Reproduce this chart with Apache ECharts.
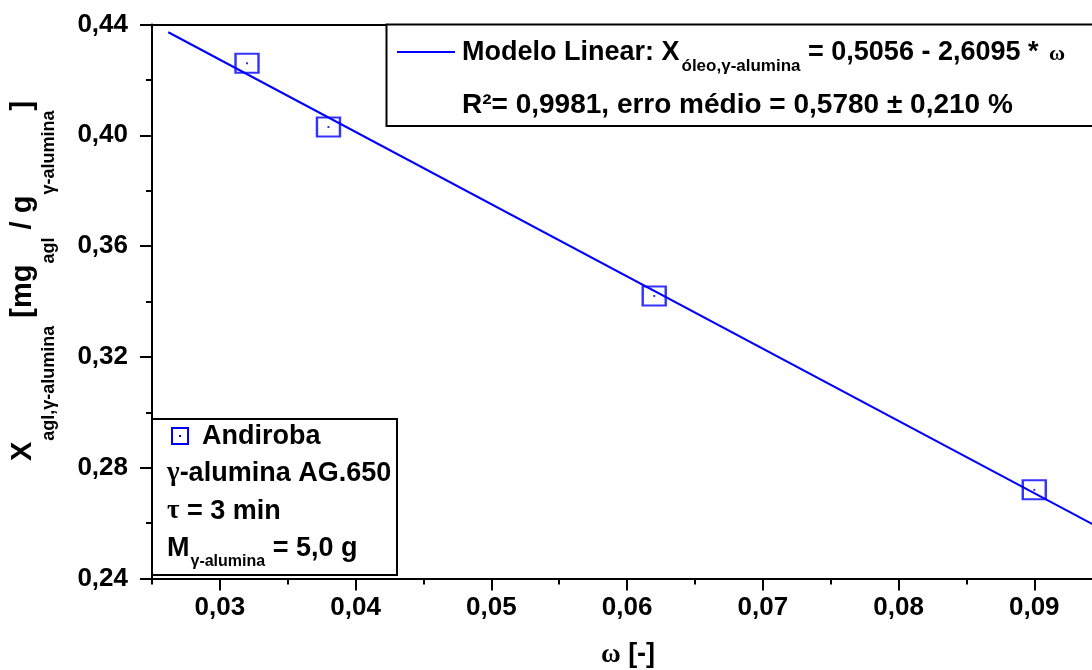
<!DOCTYPE html>
<html>
<head>
<meta charset="utf-8">
<script src="https://cdn.jsdelivr.net/npm/echarts@6/dist/echarts.min.js"></script>
<style>
html,body{margin:0;padding:0;background:#fff;}
#chart{width:1092px;height:670px;}
</style>
</head>
<body>
<div id="chart"></div>
<script>
// ---- data ----
const omega = [0.032, 0.038, 0.062, 0.090];
const xAgl = [0.426, 0.403, 0.342, 0.272];
const fitOmega = [0.0262, 0.1];
const fitX = [0.4372, 0.2447];
const xMajorTicks = [0.03, 0.04, 0.05, 0.06, 0.07, 0.08, 0.09, 0.1];
const xMinorTicks = [0.025, 0.035, 0.045, 0.055, 0.065, 0.075, 0.085, 0.095];
const yMin = 0.24, yMax = 0.44, yStep = 0.04;
const xMin = 0.025, xMax = 0.1;

const F = '"Liberation Sans", Arial, Helvetica, sans-serif';
const S = '"Liberation Serif", "Times New Roman", serif';
const BLUE = '#0000ff';
const fmt = v => v.toFixed(2).replace('.', ',');

const chart = echarts.init(document.getElementById('chart'), null, {renderer: 'canvas'});

const mainTok = {fontFamily: F, fontWeight: 'bold', fontSize: 27, lineHeight: 30, verticalAlign: 'top', fill: '#000'};
const greekTok = {fontFamily: S, fontWeight: 'bold', fontSize: 27, lineHeight: 30, verticalAlign: 'top', fill: '#000'};

const option = {
  animation: false,
  backgroundColor: '#fff',
  grid: {left: 152, right: -78, top: 24.5, bottom: 91.5, containLabel: false, outerBoundsMode: 'none'},
  xAxis: [
    {
      type: 'value', position: 'bottom', min: xMin, max: xMax,
      axisLine: {show: true, onZero: false, lineStyle: {color: '#000', width: 2}},
      axisTick: {show: true, length: 12, customValues: xMajorTicks, lineStyle: {color: '#000', width: 2}},
      axisLabel: {customValues: xMajorTicks, formatter: fmt, margin: 16, fontFamily: F, fontWeight: 'bold', fontSize: 26, color: '#000'},
      splitLine: {show: false}
    },
    {
      type: 'value', position: 'bottom', min: xMin, max: xMax,
      axisLine: {show: false, onZero: false},
      axisTick: {show: true, length: 6, customValues: xMinorTicks, lineStyle: {color: '#000', width: 2}},
      axisLabel: {show: false},
      splitLine: {show: false}
    },
    {
      type: 'value', position: 'top', min: xMin, max: xMax,
      axisLine: {show: true, onZero: false, lineStyle: {color: '#000', width: 2}},
      axisTick: {show: false},
      axisLabel: {show: false},
      splitLine: {show: false}
    }
  ],
  yAxis: {
    type: 'value', min: yMin, max: yMax, interval: yStep,
    axisLine: {show: true, onZero: false, lineStyle: {color: '#000', width: 2}},
    axisTick: {show: true, length: 12, lineStyle: {color: '#000', width: 2}},
    minorTick: {show: true, splitNumber: 2, length: 6, lineStyle: {color: '#000', width: 2}},
    axisLabel: {formatter: fmt, margin: 24, fontFamily: F, fontWeight: 'bold', fontSize: 26, color: '#000'},
    splitLine: {show: false}, minorSplitLine: {show: false}
  },
  series: [
    {
      name: 'Modelo Linear', type: 'line', xAxisIndex: 0,
      data: fitOmega.map((x, i) => [x, fitX[i]]),
      symbol: 'none', lineStyle: {color: BLUE, width: 2}, z: 2
    },
    {
      name: 'Andiroba', type: 'scatter', xAxisIndex: 0,
      data: omega.map((x, i) => [x, xAgl[i]]),
      symbol: 'rect', symbolSize: [23, 19],
      itemStyle: {color: 'rgba(0,0,0,0)', borderColor: BLUE, borderWidth: 2.2}, z: 3
    },
    {
      name: 'Andiroba-centro', type: 'scatter', xAxisIndex: 0,
      data: omega.map((x, i) => [x, xAgl[i]]),
      symbol: 'rect', symbolSize: 2, itemStyle: {color: BLUE}, z: 4, silent: true
    }
  ],
  graphic: [
    // top legend box
    {type: 'rect', z: 10, shape: {x: 386.5, y: 24.5, width: 800, height: 101.5}, style: {fill: '#fff', stroke: '#000', lineWidth: 2}},
    {type: 'line', z: 11, shape: {x1: 397, y1: 52, x2: 455, y2: 52}, style: {stroke: BLUE, lineWidth: 2}},
    {type: 'text', z: 11, x: 462, y: 39, style: {
      text: '{m|Modelo Linear: X}{s|óleo,γ-alumina}{m| = 0,5056 - 2,6095 * }{w|ω}',
      align: 'left', verticalAlign: 'top',
      rich: {
        m: mainTok,
        s: {fontFamily: F, fontWeight: 'bold', fontSize: 17, lineHeight: 17, padding: [19, 0, 0, 2], verticalAlign: 'top', fill: '#000'},
        w: {fontFamily: S, fontWeight: 'bold', fontSize: 22, lineHeight: 30, padding: [4, 0, 0, 3], verticalAlign: 'top', fill: '#000'}
      }
    }},
    {type: 'text', z: 11, x: 462, y: 105, style: {
      text: 'R²= 0,9981, erro médio = 0,5780 ± 0,210 %',
      font: 'bold 28px ' + F, fill: '#000', align: 'left', verticalAlign: 'middle'
    }},
    // bottom-left legend box
    {type: 'rect', z: 10, shape: {x: 152, y: 419, width: 245, height: 156}, style: {fill: '#fff', stroke: '#000', lineWidth: 2}},
    {type: 'rect', z: 11, shape: {x: 172, y: 428, width: 16, height: 16}, style: {fill: 'none', stroke: BLUE, lineWidth: 2}},
    {type: 'rect', z: 11, shape: {x: 179, y: 435, width: 2, height: 2}, style: {fill: BLUE}},
    {type: 'text', z: 11, x: 202, y: 437, style: {text: 'Andiroba', font: 'bold 27px ' + F, fill: '#000', align: 'left', verticalAlign: 'middle'}},
    {type: 'text', z: 11, x: 167, y: 460, style: {
      text: '{g|γ}{m|-alumina AG.650}', align: 'left', verticalAlign: 'top',
      rich: {m: mainTok, g: greekTok}
    }},
    {type: 'text', z: 11, x: 167, y: 498, style: {
      text: '{g|τ}{m| = 3 min}', align: 'left', verticalAlign: 'top',
      rich: {m: mainTok, g: greekTok}
    }},
    {type: 'text', z: 11, x: 167, y: 535, style: {
      text: '{m|M}{s|γ-alumina}{m| = 5,0 g}', align: 'left', verticalAlign: 'top',
      rich: {
        m: mainTok,
        s: {fontFamily: F, fontWeight: 'bold', fontSize: 16, lineHeight: 16, padding: [19, 0, 0, 1], verticalAlign: 'top', fill: '#000'}
      }
    }},
    // y axis title
    {type: 'text', z: 11, x: 8, y: 281, rotation: Math.PI / 2, style: {
      text: '{m|X}{s|agl,γ-alumina}{m| [mg}{s|agl}{m| / g}{s|γ-alumina}{m|]}',
      align: 'center', verticalAlign: 'top',
      rich: {
        m: {fontFamily: F, fontWeight: 'bold', fontSize: 29, lineHeight: 32, verticalAlign: 'top', fill: '#000'},
        s: {fontFamily: F, fontWeight: 'bold', fontSize: 18, lineHeight: 18, padding: [32, 0, 0, 1], verticalAlign: 'top', fill: '#000'}
      }
    }},
    // x axis title
    {type: 'text', z: 11, x: 628, y: 655, style: {
      text: '{w|ω}{a| [-]}', align: 'center', verticalAlign: 'middle',
      rich: {
        w: {fontFamily: S, fontWeight: 'bold', fontSize: 27, lineHeight: 30, fill: '#000'},
        a: {fontFamily: F, fontWeight: 'bold', fontSize: 27, lineHeight: 30, fill: '#000'}
      }
    }}
  ]
};
chart.setOption(option);
</script>
</body>
</html>
